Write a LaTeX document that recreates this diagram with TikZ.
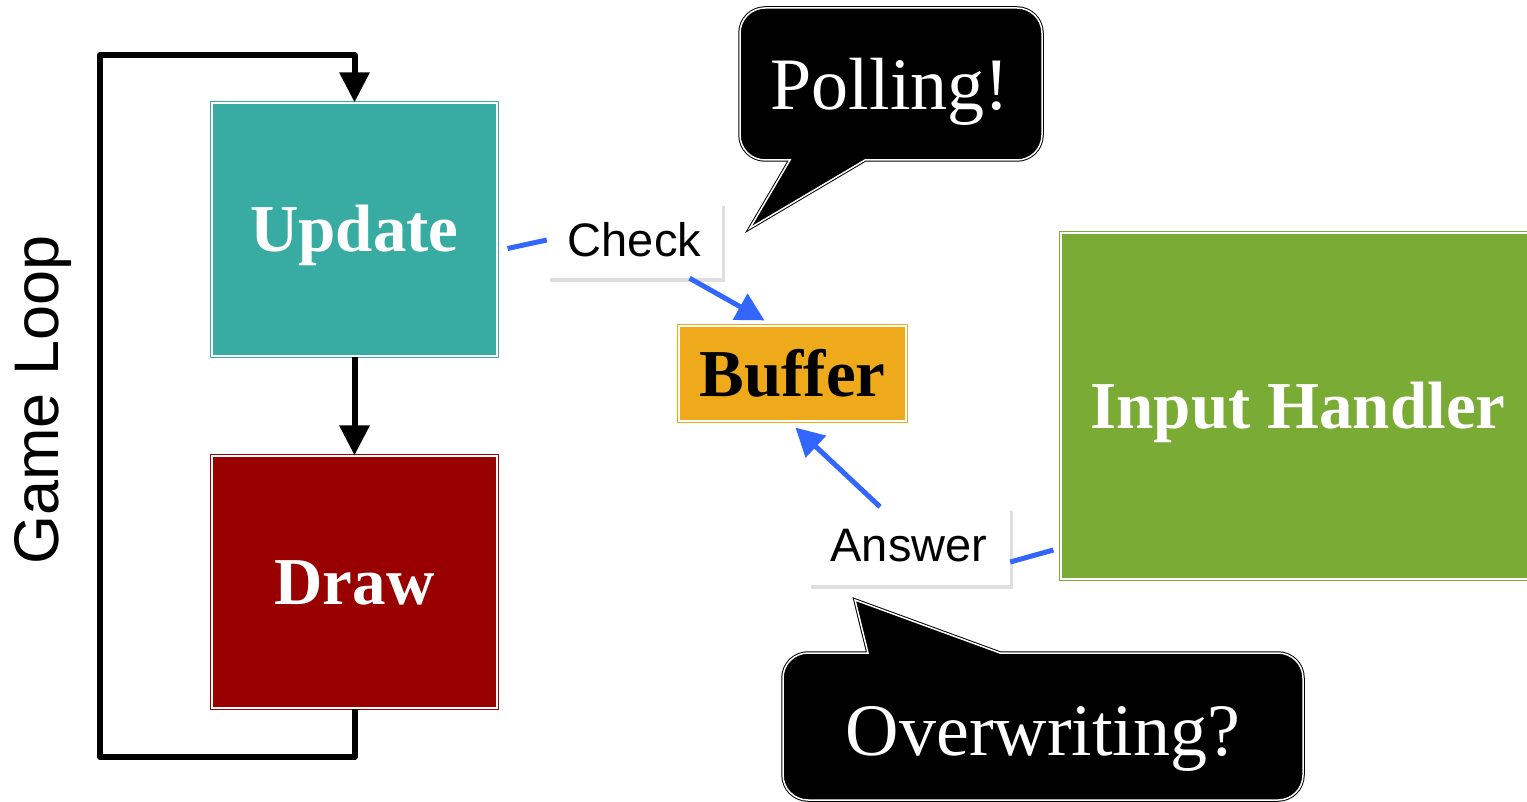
\documentclass[tikz,border=0pt]{standalone}
\usepackage{fontspec}
\setmainfont{Liberation Serif}
\setsansfont{Liberation Sans}
\usetikzlibrary{arrows.meta,shadows,calc}
\definecolor{updcol}{HTML}{38ACA3}
\definecolor{drwcol}{HTML}{990000}
\definecolor{bufcol}{HTML}{EEAA1A}
\definecolor{inpcol}{HTML}{7AAB35}
\definecolor{flowcol}{HTML}{3366FF}
\begin{document}
\begin{tikzpicture}[x=1pt, y=-1pt,
    stage/.style={rectangle, line width=1.2pt, double=white, double distance=2pt, inner sep=0pt, text=white, text height=45pt, text depth=0pt, font=\bfseries\fontsize{67}{80}\selectfont},
    tag/.style={rectangle, fill=white, inner sep=0pt, font=\sffamily\fontsize{47}{56}\selectfont, drop shadow={shadow xshift=3pt, shadow yshift=-4pt, opacity=0.25}},
    bubble/.style={fill=black, draw=black, line width=1pt, double=white, double distance=1.5pt},
    bubbletext/.style={text=white, inner sep=0pt, font=\fontsize{74}{88}\selectfont},
    loopline/.style={line width=6pt, line join=round},
    flow/.style={line width=5pt, flowcol, -{Triangle[length=28pt,width=29pt]}}]
    \useasboundingbox (0,0) rectangle (1527,802);

    % Draw the speech bubbles
    \draw[bubble] (865,160) [rounded corners=25pt] -- (1042,160) -- (1042,8) -- (740,8) -- (740,160) [sharp corners] -- (790,160) -- (750,228) -- cycle;
    \node[bubbletext] (pol) at (890,92) {Polling!};

    \draw[bubble] (1000,653) [rounded corners=25pt] -- (1303,653) -- (1303,800) -- (783,800) -- (783,653) [sharp corners] -- (868,653) -- (855,600) -- cycle;
    \node[bubbletext] (ovr) at (1043,739) {Overwriting?};

    % Draw the boxes
    \node[stage, draw=updcol, fill=updcol, minimum width=285pt, minimum height=253pt] (upd) at (354.5,229.5) {Update};
    \node[stage, draw=drwcol, fill=drwcol, minimum width=285pt, minimum height=252pt] (drw) at (354.5,582) {Draw};
    \node[stage, draw=bufcol, fill=bufcol, text=black, minimum width=227pt, minimum height=95pt] (buf) at (792.5,373.5) {Buffer};
    \node[stage, draw=inpcol, fill=inpcol, minimum width=474pt, minimum height=346pt] (inp) at (1298,406) {Input Handler};

    \node[rotate=90, inner sep=0pt, font=\sffamily\fontsize{63}{70}\selectfont] (gl) at (43,400) {Game Loop};

    % Draw the game loop
    \coordinate (lbot) at (100,757);
    \coordinate (ltop) at (100,55);
    \draw[loopline, -{Triangle[length=30pt,width=29pt]}] (drw.south) |- (lbot) -- (ltop) -| (upd.north);
    \draw[loopline, -{Triangle[length=30pt,width=29pt]}] (upd) -- (drw);

    % Draw the labels on the flows
    \node[tag, minimum width=175pt, minimum height=76pt] (chk) at (634.5,240) {Check};
    \node[tag, minimum width=202pt, minimum height=78pt] (ans) at (909,546) {Answer};

    % Draw the flows to and from the buffer
    \draw[flow, -] ($(upd.east)+(10,19)$) -- (chk.west);
    \draw[flow] ($(chk.south)+(55,0)$) -- ($(buf.north)+(-28,-5)$);
    \draw[flow, -] ($(inp.west)+(-7,144)$) -- ($(ans.east)+(0,16)$);
    \draw[flow] ($(ans.north)+(-29,0)$) -- ($(buf.south)+(3,6)$);

\end{tikzpicture}
\end{document}
